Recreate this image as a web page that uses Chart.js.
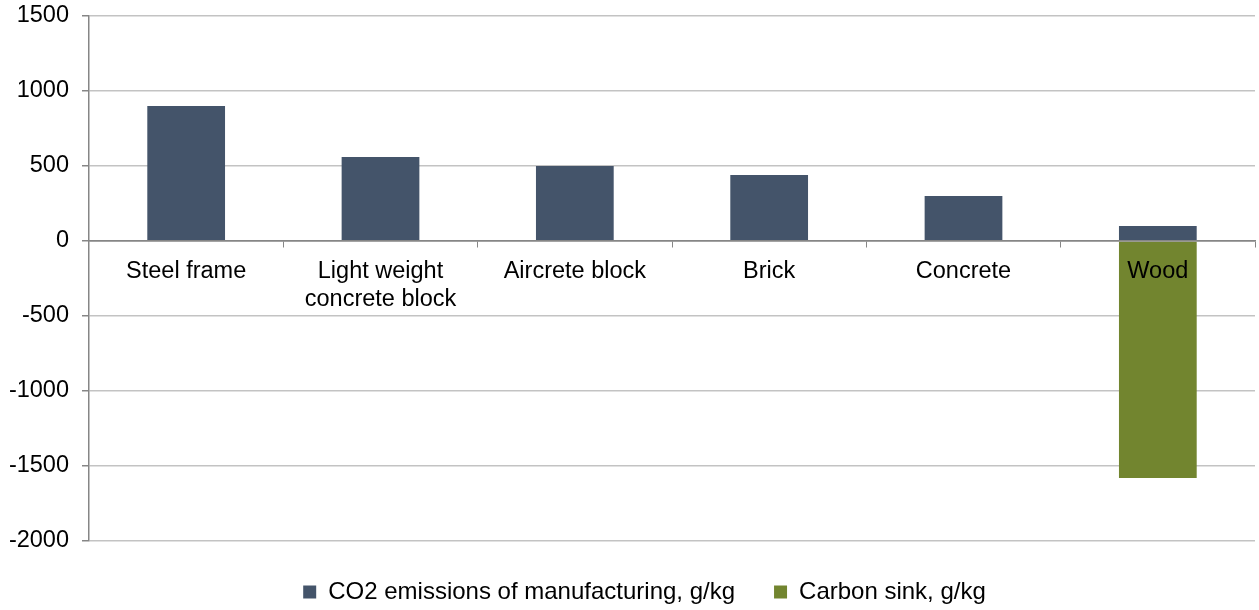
<!DOCTYPE html>
<html>
<head>
<meta charset="utf-8">
<script src="https://cdn.jsdelivr.net/npm/chart.js@4/dist/chart.umd.min.js"></script>
<style>
  html, body { margin: 0; padding: 0; background: #ffffff; }
  #wrap { width: 1259px; height: 610px; }
</style>
</head>
<body>
<div id="wrap"><canvas id="chart" width="1259" height="610"></canvas></div>
<script>
// Building materials: CO2 released in manufacture vs. carbon stored
const categories = [
  'Steel frame',
  ['Light weight', 'concrete block'],
  'Aircrete block',
  'Brick',
  'Concrete',
  'Wood'
];
const emissions = [900, 560, 500, 440, 300, 100];
const carbonSink = [null, null, null, null, null, -1580];
const seriesNames = ['CO2 emissions of manufacturing, g/kg', 'Carbon sink, g/kg'];
const yTicks = [-2000, -1500, -1000, -500, 0, 500, 1000, 1500];

const FAMILY = '"Liberation Sans", Arial, sans-serif';
const FONT = { family: FAMILY, size: 23.5 };
const AXIS = '#868686';
const GRID = '#c3c3c3';

// Nudge the legend row to the right so it sits under the plot area
const legendShift = {
  id: 'legendShift',
  afterLayout(chart) {
    const lg = chart.legend;
    if (lg) { lg.left += 17; lg.right += 17; }
  }
};

new Chart(document.getElementById('chart'), {
  type: 'bar',
  data: {
    labels: categories,
    datasets: [
      { label: seriesNames[0], data: emissions, backgroundColor: '#44546a',
        categoryPercentage: 1, barPercentage: 0.4 },
      { label: seriesNames[1], data: carbonSink, backgroundColor: '#72852f',
        categoryPercentage: 1, barPercentage: 0.4 }
    ]
  },
  plugins: [legendShift],
  options: {
    responsive: false,
    animation: false,
    layout: { padding: { left: 0, right: 4, top: 16, bottom: 0 } },
    plugins: {
      tooltip: { enabled: false },
      legend: {
        position: 'bottom',
        maxHeight: 69,
        labels: {
          color: '#000',
          font: { family: FAMILY, size: 24 },
          boxWidth: 13,
          boxHeight: 13,
          padding: 39
        }
      }
    },
    scales: {
      x: {
        stacked: true,
        position: { y: 0 },
        border: { display: true, color: AXIS, width: 1.5, z: 1 },
        grid: {
          display: true, drawOnChartArea: false, drawTicks: true,
          tickLength: 6, color: AXIS, offset: true, z: 1
        },
        ticks: { color: '#000', font: FONT, padding: 10, maxRotation: 0, autoSkip: false, z: 1 }
      },
      y: {
        stacked: true,
        min: -2000,
        max: 1500,
        afterBuildTicks: (scale) => { scale.ticks = yTicks.map(v => ({ value: v })); },
        afterFit: (scale) => {
          scale.width = 89;
          scale.paddingTop = 0;
          scale.paddingBottom = 0;
        },
        border: { display: true, color: AXIS, width: 1.5 },
        grid: {
          color: (ctx) => ctx.tick && ctx.tick.value === 0 ? AXIS : GRID,
          lineWidth: 1.5,
          tickLength: 7,
          tickColor: AXIS
        },
        ticks: {
          color: '#000', font: FONT, padding: 13,
          callback: (v) => String(v)
        }
      }
    }
  }
});
</script>
</body>
</html>
